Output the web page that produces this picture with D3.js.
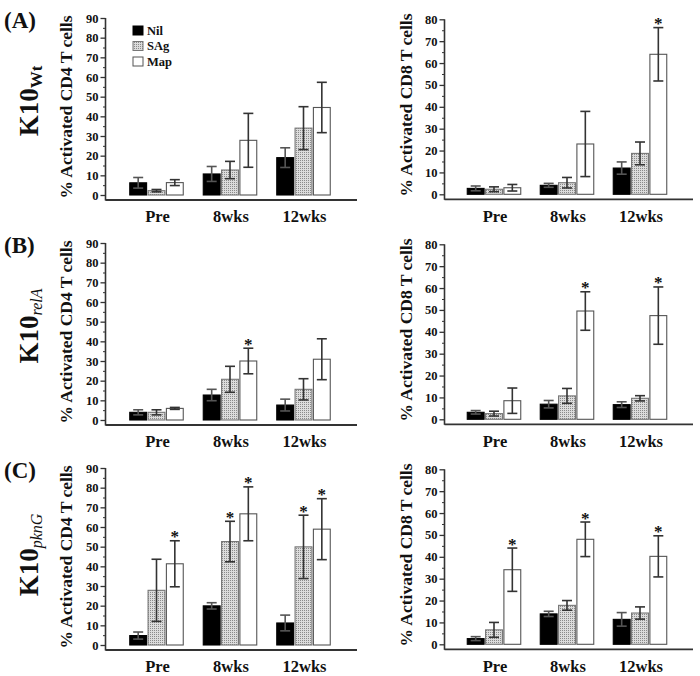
<!DOCTYPE html>
<html><head><meta charset="utf-8">
<script src="https://cdn.jsdelivr.net/npm/d3@7"></script>
<style>
body{margin:0;background:#fff}
svg{display:block}
text{font-family:"Liberation Serif","Times New Roman",serif;font-weight:bold;fill:#111}
</style>
</head><body>
<svg id="c" width="700" height="676"></svg>
<script>
// ---------- DATA ----------
const groups = ["Pre", "8wks", "12wks"];
const series = ["Nil", "SAg", "Map"];
const cd4Ticks = [0, 10, 20, 30, 40, 50, 60, 70, 80, 90];
const cd8Ticks = [0, 10, 20, 30, 40, 50, 60, 70, 80];
const cd4Label = "% Activated CD4 T cells";
const cd8Label = "% Activated CD8 T cells";
const panelLetters = ["(A)", "(B)", "(C)"];
const strainSubs = ["Wt", "relA", "pknG"];

// rows of each array: Nil, SAg, Map ; columns: Pre, 8wks, 12wks
const wtCD4Mean = [[6.2, 10.7, 19.0], [2.2, 12.7, 34.0], [6.3, 27.8, 44.5]];
const wtCD4Err  = [[2.7, 3.8, 5.0],   [0.6, 4.4, 10.9],  [1.5, 13.7, 12.8]];
const wtCD4Star = [[0, 0, 0], [0, 0, 0], [0, 0, 0]];

const wtCD8Mean = [[2.7, 4.1, 12.0], [2.3, 5.3, 18.7], [3.0, 23.0, 64.0]];
const wtCD8Err  = [[1.1, 0.9, 2.8],  [1.1, 2.4, 5.2],  [1.5, 14.9, 12.2]];
const wtCD8Star = [[0, 0, 0], [0, 0, 0], [0, 0, 1]];

const relCD4Mean = [[3.9, 12.7, 7.6], [3.9, 20.7, 15.6], [5.9, 30.0, 30.9]];
const relCD4Err  = [[1.3, 2.9, 3.0],  [1.3, 6.6, 5.4],   [0.5, 6.5, 10.4]];
const relCD4Star = [[0, 0, 0], [0, 0, 0], [0, 1, 0]];

const relCD8Mean = [[3.2, 6.9, 6.7], [2.6, 10.7, 9.6], [8.5, 49.5, 47.4]];
const relCD8Err  = [[0.8, 1.7, 1.3], [1.1, 3.4, 1.2],  [5.8, 8.8, 13.1]];
const relCD8Star = [[0, 0, 0], [0, 0, 0], [0, 1, 1]];

const pknCD4Mean = [[4.8, 19.9, 11.2], [27.8, 52.6, 49.9], [41.3, 66.7, 58.9]];
const pknCD4Err  = [[1.8, 1.6, 4.0],   [15.8, 10.3, 16.1], [11.7, 13.7, 15.5]];
const pknCD4Star = [[0, 0, 0], [0, 1, 1], [1, 1, 1]];

const pknCD8Mean = [[2.6, 13.9, 11.4], [6.6, 17.8, 14.3], [34.1, 48.0, 40.2]];
const pknCD8Err  = [[0.9, 1.2, 3.1],   [3.4, 2.2, 2.8],   [9.9, 7.9, 9.4]];
const pknCD8Star = [[0, 0, 0], [0, 0, 0], [1, 1, 1]];

// ---------- DRAW ----------
const svg = d3.select("#c");
const defs = svg.append("defs");
const pat = defs.append("pattern").attr("id", "dots")
  .attr("width", 2).attr("height", 2).attr("patternUnits", "userSpaceOnUse");
pat.append("rect").attr("width", 2).attr("height", 2).attr("fill", "#dcdcdc");
pat.append("rect").attr("width", 1).attr("height", 1).attr("fill", "#8a8a8a");

const fills = {Nil: "#000", SAg: "url(#dots)", Map: "#fff"};
const strokes = {Nil: "#000", SAg: "#777", Map: "#555"};

const cols = [
  {axisX: 105.5, zeroY: 195, topY: 18, max: 90, ticks: cd4Ticks, xEnd: 357,
   g0: 119.75, g1: 340.25, label: cd4Label, labelX: 72, labelY: 107},
  {axisX: 444.5, zeroY: 194.3, topY: 19.3, max: 80, ticks: cd8Ticks, xEnd: 693,
   g0: 457.5, g1: 676.5, label: cd8Label, labelX: 411.5, labelY: 105}
];
const rowH = 225;
const panelData = [
  [[wtCD4Mean, wtCD4Err, wtCD4Star], [wtCD8Mean, wtCD8Err, wtCD8Star]],
  [[relCD4Mean, relCD4Err, relCD4Star], [relCD8Mean, relCD8Err, relCD8Star]],
  [[pknCD4Mean, pknCD4Err, pknCD4Star], [pknCD8Mean, pknCD8Err, pknCD8Star]]
];

panelData.forEach((row, r) => {
  const off = r * rowH;
  // panel letter
  svg.append("text").attr("x", 4).attr("y", 28 + off)
    .attr("font-size", 23).text(panelLetters[r]);
  // strain label
  const st = svg.append("text")
    .attr("transform", `translate(38,${101 + off + (r === 2 ? 4 : 0)}) rotate(-90)`)
    .attr("text-anchor", "middle").attr("font-size", 27);
  st.append("tspan").text("K10");
  st.append("tspan").attr("dy", 4)
    .attr("font-size", r === 0 ? 17 : 16)
    .attr("font-style", r === 0 ? "normal" : "italic")
    .attr("font-weight", r === 0 ? "bold" : "normal")
    .text(strainSubs[r]);

  row.forEach((pd, c) => {
    const L = cols[c];
    const [means, errs, stars] = pd;
    const y = d3.scaleLinear().domain([0, L.max]).range([L.zeroY + off, L.topY + off]);
    const xg = d3.scaleBand().domain(groups).range([L.g0, L.g1]);
    const xs = d3.scaleBand().domain(series)
      .range([(xg.bandwidth() - 53.5) / 2, (xg.bandwidth() + 53.5) / 2]).paddingInner(0.08);
    const g = svg.append("g");

    // axes lines
    g.append("line").attr("x1", L.axisX).attr("x2", L.axisX)
      .attr("y1", y(L.max)).attr("y2", y(0) + 5.5)
      .attr("stroke", "#333").attr("stroke-width", 1.6);
    g.append("line").attr("x1", L.axisX).attr("x2", L.xEnd)
      .attr("y1", y(0) + 5).attr("y2", y(0) + 5)
      .attr("stroke", "#333").attr("stroke-width", 1.8);

    // major ticks
    const ax = d3.axisLeft(y).tickValues(L.ticks).tickSize(5).tickPadding(2)
      .tickFormat(d3.format("d"));
    const ag = g.append("g").attr("transform", `translate(${L.axisX},0)`).call(ax);
    ag.select(".domain").remove();
    ag.selectAll("line").attr("stroke", "#333").attr("stroke-width", 1.3);
    ag.selectAll("text").attr("font-size", 12.5)
      .attr("font-family", '"Liberation Serif", serif').attr("font-weight", "bold").attr("fill", "#111");
    // minor ticks
    const minor = L.ticks.slice(0, -1).map(v => v + 5);
    const am = d3.axisLeft(y).tickValues(minor).tickSize(2.5).tickFormat("");
    const mg = g.append("g").attr("transform", `translate(${L.axisX},0)`).call(am);
    mg.select(".domain").remove();
    mg.selectAll("line").attr("stroke", "#333").attr("stroke-width", 1);

    // y label
    g.append("text").attr("transform", `translate(${L.labelX},${L.labelY + off}) rotate(-90)`)
      .attr("text-anchor", "middle").attr("font-size", 17.5).text(L.label);

    // category labels
    g.selectAll(".cat").data(groups).enter().append("text")
      .attr("x", d => xg(d) + xg.bandwidth() / 2 + 1)
      .attr("y", 222 + off).attr("text-anchor", "middle")
      .attr("font-size", 16.5).text(d => d);

    // bars
    series.forEach((s, si) => {
      groups.forEach((gr, gi) => {
        const v = means[si][gi], e = errs[si][gi];
        const bx = xg(gr) + xs(s), bw = xs.bandwidth();
        g.append("rect").attr("x", bx).attr("y", y(v))
          .attr("width", bw).attr("height", y(0) - y(v))
          .attr("fill", fills[s]).attr("stroke", strokes[s]).attr("stroke-width", 1.1);
        const cx = bx + bw / 2, cw = 5;
        const ec = s === "Nil" ? "#555" : "#333";
        g.append("line").attr("x1", cx).attr("x2", cx).attr("y1", y(v + e)).attr("y2", y(v - e))
          .attr("stroke", ec).attr("stroke-width", 1.6);
        [v + e, v - e].forEach(t => {
          g.append("line").attr("x1", cx - cw).attr("x2", cx + cw).attr("y1", y(t)).attr("y2", y(t))
            .attr("stroke", ec).attr("stroke-width", 1.6);
        });
        if (stars[si][gi]) {
          g.append("text").attr("x", cx).attr("y", y(v + e) + 1.5)
            .attr("text-anchor", "middle").attr("font-size", 17).text("*");
        }
      });
    });
  });
});

// legend (panel A, left)
const leg = svg.append("g");
series.forEach((s, i) => {
  const ly = 26 + i * 15.5;
  leg.append("rect").attr("x", 133).attr("y", ly).attr("width", 10).attr("height", 9)
    .attr("fill", fills[s]).attr("stroke", strokes[s]).attr("stroke-width", 1);
  leg.append("text").attr("x", 147).attr("y", ly + 8.5).attr("font-size", 12.5).text(s);
});
</script>
</body></html>
